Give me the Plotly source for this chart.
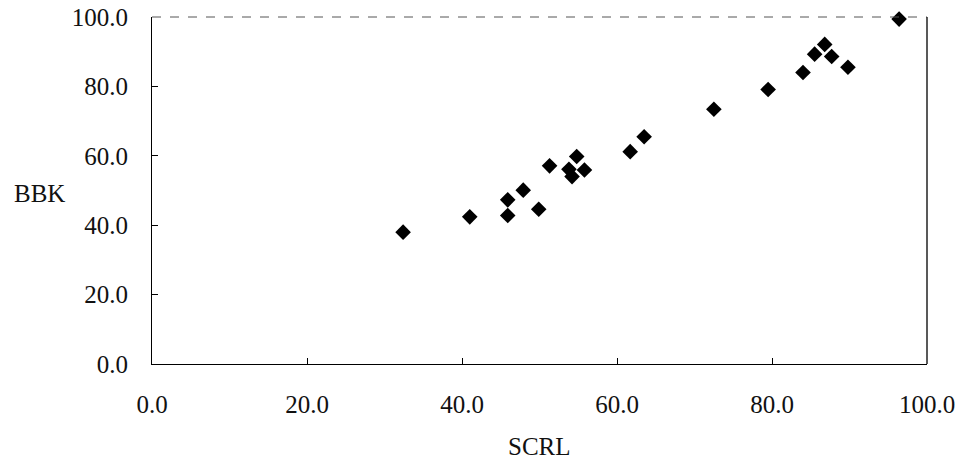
import plotly.graph_objects as go

# SCRL vs BBK scores
scrl = [32.4, 41.0, 45.9, 45.9, 47.9, 49.9, 51.3, 53.8, 54.2, 54.8, 55.8,
        61.7, 63.5, 72.5, 79.5, 84.0, 85.5, 86.8, 87.7, 89.8, 96.4]
bbk = [38.0, 42.4, 47.3, 42.8, 50.1, 44.6, 57.1, 56.1, 54.0, 59.8, 55.9,
       61.2, 65.5, 73.4, 79.1, 84.0, 89.3, 92.1, 88.6, 85.5, 99.4]

tick_vals = [0, 20, 40, 60, 80, 100]
tick_text = ["0.0", "20.0", "40.0", "60.0", "80.0", "100.0"]

FONT = "'Times New Roman', 'Liberation Serif', Times, serif"

fig = go.Figure(
    go.Scatter(
        x=scrl,
        y=bbk,
        mode="markers",
        marker=dict(symbol="diamond", size=12, color="black", line=dict(width=0)),
        hoverinfo="x+y",
        cliponaxis=False,
    )
)

axis_common = dict(
    range=[0, 100],
    tickvals=tick_vals,
    ticktext=tick_text,
    ticks="inside",
    ticklen=6,
    tickcolor="black",
    tickwidth=1,
    showline=True,
    linecolor="black",
    linewidth=1,
    showgrid=False,
    zeroline=False,
    automargin=False,
    tickfont=dict(family=FONT, size=25, color="#111"),
)

fig.update_xaxes(**axis_common, ticklabelstandoff=18)
fig.update_yaxes(**axis_common, ticklabelstandoff=18)

# Top and right edges of the frame
fig.add_shape(type="line", xref="paper", yref="paper", x0=0, x1=1, y0=1, y1=1,
              line=dict(color="#555", width=1, dash="dash"))
fig.add_shape(type="line", xref="paper", yref="paper", x0=1, x1=1, y0=0, y1=1,
              line=dict(color="#222", width=1.5))

# Axis titles
fig.add_annotation(text="SCRL", xref="paper", yref="paper", x=0.5, y=-0.237,
                   xanchor="center", yanchor="middle", showarrow=False,
                   font=dict(family=FONT, size=25, color="#111"))
fig.add_annotation(text="BBK", xref="paper", yref="paper", x=-0.181, y=0.49,
                   xanchor="left", yanchor="middle", showarrow=False,
                   font=dict(family=FONT, size=25, color="#111"))

fig.update_layout(
    width=965,
    height=464,
    margin=dict(l=152, r=38, t=17, b=100),
    plot_bgcolor="white",
    paper_bgcolor="white",
    showlegend=False,
)

fig.write_html("out.html")
